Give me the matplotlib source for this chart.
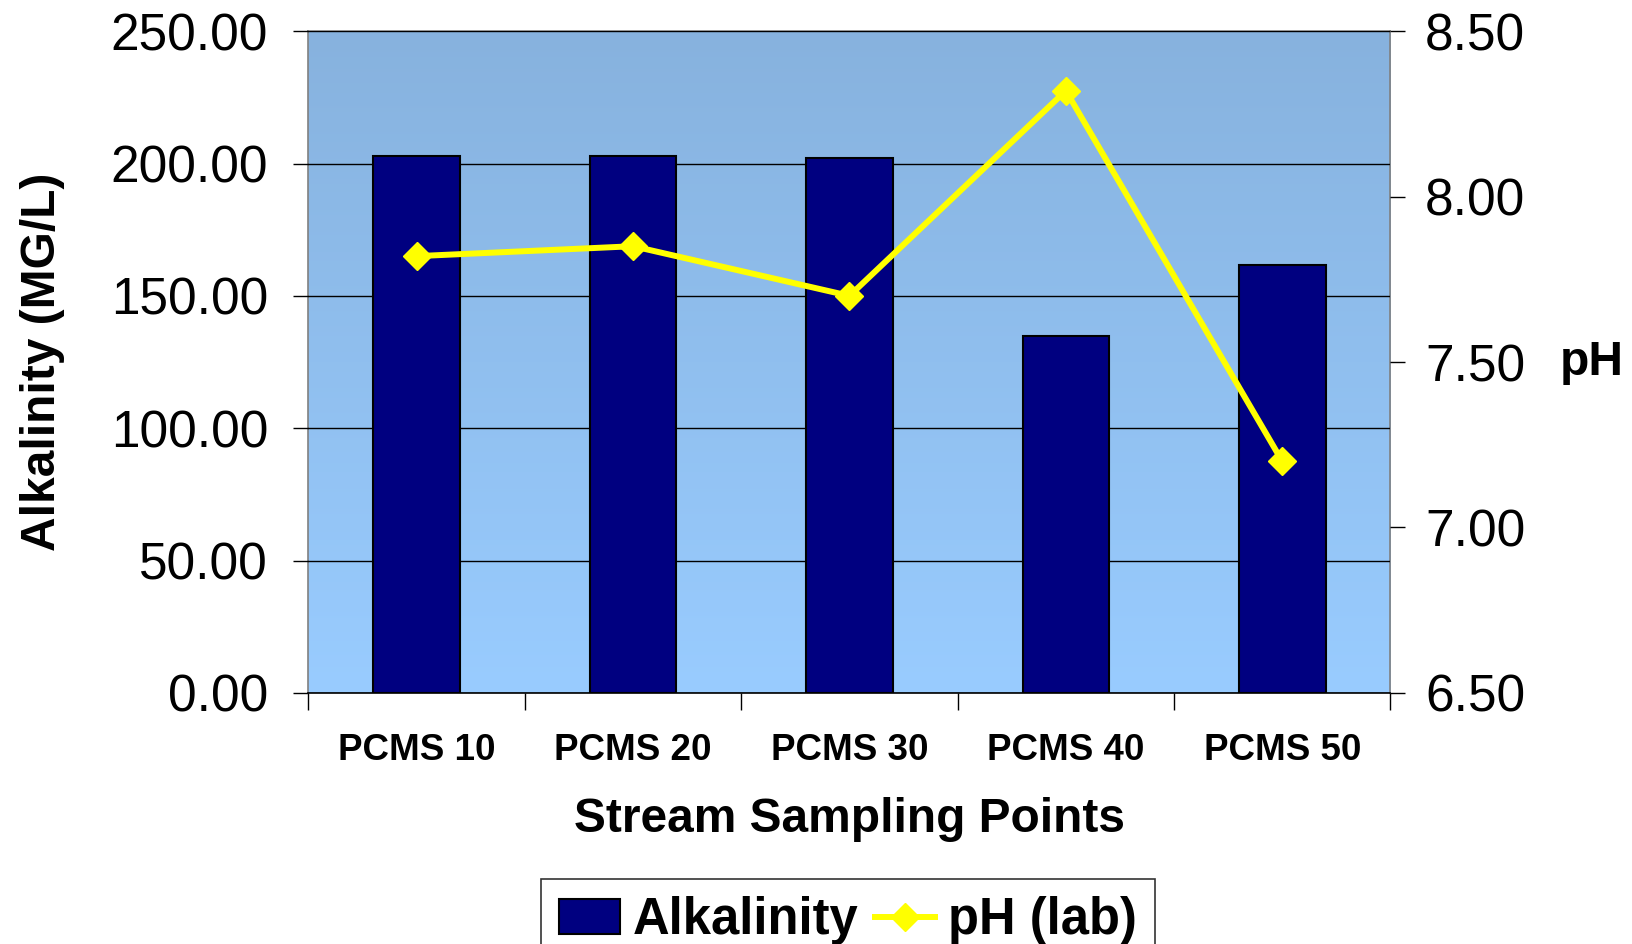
import numpy as np
import matplotlib.pyplot as plt
from matplotlib.colors import LinearSegmentedColormap

plt.rcParams['font.family'] = ['Liberation Sans', 'DejaVu Sans']

sites = ["PCMS 10", "PCMS 20", "PCMS 30", "PCMS 40", "PCMS 50"]
alkalinity = [203, 203, 202, 135, 161.5]
ph_lab = [7.82, 7.85, 7.70, 8.32, 7.20]

fig = plt.figure(figsize=(16.32, 9.44), dpi=100)
ax = fig.add_axes([0.189, 0.266, 0.663, 0.701])

x = np.arange(len(sites))

# gradient background
cmap = LinearSegmentedColormap.from_list("bg", ["#99ccff", "#87b2de"])
grad = np.linspace(0, 1, 256).reshape(-1, 1)
ax.imshow(grad, aspect='auto', cmap=cmap, origin='lower',
          extent=[-0.5, len(sites) - 0.5, 0, 250], zorder=0)

ax.bar(x, alkalinity, width=0.4, color="#000080", edgecolor="black",
       linewidth=1.5, zorder=3, label="Alkalinity")

ax.set_xlim(-0.5, len(sites) - 0.5)
ax.set_ylim(0, 250)
ax.set_yticks(np.arange(0, 251, 50))
ax.set_yticklabels([f"{v:.2f}" for v in np.arange(0, 251, 50)], fontsize=37)
ax.yaxis.grid(True, color="black", linewidth=1, zorder=1)
ax.set_axisbelow(False)
ax.tick_params(axis='y', length=11, width=1, pad=18)

ax.set_xticks(x)
ax.set_xticklabels(sites, fontsize=26.5, fontweight='bold')
ax.tick_params(axis='x', length=0, pad=29)
ax.set_xticks(np.arange(-0.5, len(sites), 1), minor=True)
ax.tick_params(axis='x', which='minor', length=12, width=1)

ax.set_xlabel("Stream Sampling Points", fontsize=34.5, fontweight='bold', labelpad=21)
ax.set_ylabel("Alkalinity (MG/L)", fontsize=34.5, fontweight='bold', labelpad=33)

for s in ax.spines.values():
    s.set_color("#808080")
    s.set_linewidth(1.2)
ax.spines['bottom'].set_color("black")

ax2 = ax.twinx()
ax2.plot(x, ph_lab, color="#ffff00", linewidth=4.3, marker='D', markersize=14,
         zorder=5, label="pH (lab)")
ax2.set_ylim(6.5, 8.5)
ax2.set_yticks(np.arange(6.5, 8.51, 0.5))
ax2.set_yticklabels([f"{v:.2f}" for v in np.arange(6.5, 8.51, 0.5)], fontsize=37)
ax2.tick_params(axis='y', length=11, width=1, pad=14)
ax2.set_ylabel("pH", fontsize=34.5, fontweight='bold', rotation=0, labelpad=48, va='center')
for s in ax2.spines.values():
    s.set_visible(False)

h1, l1 = ax.get_legend_handles_labels()
h2, l2 = ax2.get_legend_handles_labels()
leg = fig.legend(h1 + h2, l1 + l2, loc='upper center', bbox_to_anchor=(0.5196, 0.096),
                 ncol=2, prop={'weight': 'bold', 'size': 36.5},
                 frameon=True, fancybox=False, edgecolor='black',
                 handlelength=1.2, handletextpad=0.25, columnspacing=0.32,
                 borderpad=0.35)
leg.get_frame().set_linewidth(1.2)

plt.savefig("out.png", dpi=100)
